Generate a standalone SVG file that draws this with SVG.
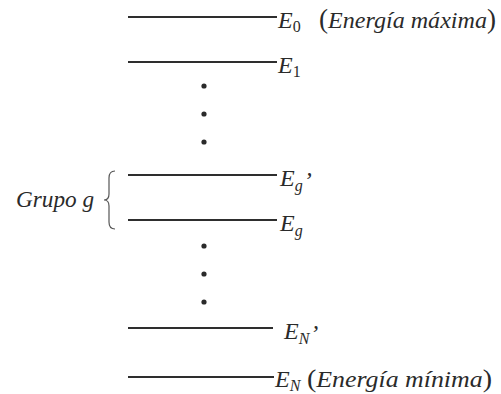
<svg xmlns="http://www.w3.org/2000/svg" width="501" height="394" viewBox="0 0 501 394">
<style>
.lvl{stroke:#2e2e2e;stroke-width:2;fill:none}
.t{font-family:"Liberation Serif","Times New Roman",serif;font-style:italic;fill:#2a2a2a;font-size:24px}
.s{font-size:16px}
.u{font-style:normal}
.dot{fill:#2a2a2a}
.brace{stroke:#555;stroke-width:1.2;fill:none}
</style>
<rect width="501" height="394" fill="#fff"/>
<g id="connectors">
<path class="brace" d="M115,171 C110.5,171 109,173.5 109,178 L109,194 C109,198 107.5,200 104,200 C107.5,200 109,202 109,206 L109,222 C109,226.5 110.5,229 115,229"/>
</g>
<g id="E0">
<line class="lvl" x1="128" y1="17" x2="277" y2="17"/>
<text class="t" x="278" y="28">E<tspan class="s u" dy="4">0</tspan></text>
<text class="t" x="319" y="28" textLength="177" lengthAdjust="spacingAndGlyphs"><tspan font-size="27" font-style="normal">(</tspan>Energía máxima<tspan font-size="27" font-style="normal">)</tspan></text>
</g>
<g id="E1">
<line class="lvl" x1="128" y1="62" x2="277" y2="62"/>
<text class="t" x="278" y="73">E<tspan class="s u" dy="4">1</tspan></text>
</g>
<g id="dots1">
<circle class="dot" cx="204" cy="86" r="2.6"/>
<circle class="dot" cx="204" cy="114" r="2.6"/>
<circle class="dot" cx="204" cy="142" r="2.6"/>
</g>
<g id="Egp">
<line class="lvl" x1="128" y1="175" x2="277" y2="175"/>
<text class="t" x="280" y="186">E<tspan class="s" dy="5">g</tspan><tspan dx="1" dy="-3">’</tspan></text>
</g>
<g id="Eg">
<line class="lvl" x1="128" y1="220" x2="277" y2="220"/>
<text class="t" x="280" y="231">E<tspan class="s" dy="5">g</tspan></text>
</g>
<g id="grupo">
<text class="t" x="16" y="207" textLength="78" lengthAdjust="spacingAndGlyphs">Grupo g</text>
</g>
<g id="dots2">
<circle class="dot" cx="204" cy="246" r="2.6"/>
<circle class="dot" cx="204" cy="274" r="2.6"/>
<circle class="dot" cx="204" cy="302" r="2.6"/>
</g>
<g id="ENp">
<line class="lvl" x1="128" y1="328" x2="273" y2="328"/>
<text class="t" x="284" y="339">E<tspan class="s" dy="5">N</tspan><tspan dx="1" dy="-3">’</tspan></text>
</g>
<g id="EN">
<line class="lvl" x1="128" y1="377" x2="274" y2="377"/>
<text class="t" x="275" y="387">E<tspan class="s" dy="3.5">N</tspan></text>
<text class="t" x="307" y="387" textLength="185" lengthAdjust="spacingAndGlyphs"><tspan font-size="26" font-style="normal">(</tspan>Energía mínima<tspan font-size="26" font-style="normal">)</tspan></text>
</g>
</svg>
